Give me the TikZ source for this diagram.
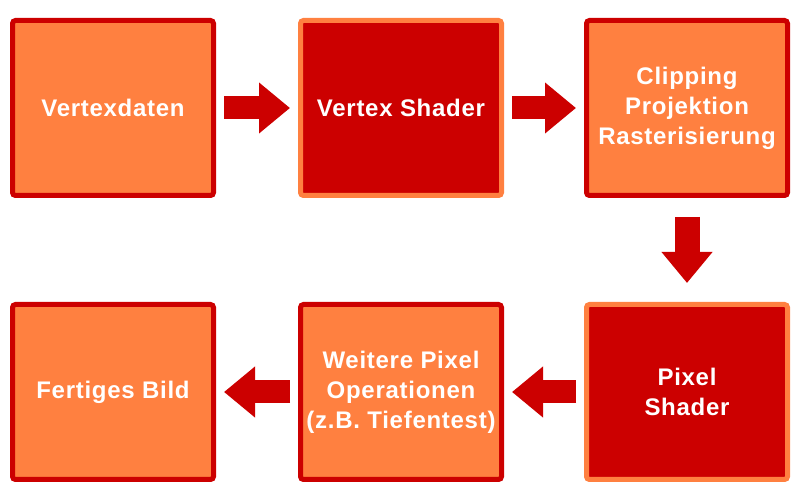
\documentclass[tikz,border=0pt]{standalone}
\usepackage{fontspec}
\setmainfont{Liberation Sans}
\newfontfamily\boxfont[LetterSpace=3]{Liberation Sans}
\usetikzlibrary{arrows.meta}
\definecolor{boxorange}{HTML}{FF8040}
\definecolor{boxred}{HTML}{CC0000}
\begin{document}
\begin{tikzpicture}[x=1pt,y=1pt,
  stage/.style={draw=boxred, fill=boxorange, line width=5pt, rounded corners=3pt,
    minimum width=201pt, minimum height=175pt, inner sep=0pt, align=center,
    text=white, font=\boxfont\bfseries\fontsize{24}{30}\selectfont},
  shader/.style={stage, draw=boxorange, fill=boxred},
  flow/.style={draw=boxred, line width=23pt, -{Triangle[length=31pt,width=49pt]},
    shorten <=8pt, shorten >=8pt}]
\useasboundingbox (0,0) rectangle (800,500);
\node[stage]  (vd) at (113,392) {Vertexdaten};
\node[shader] (vs) at (401,392) {Vertex Shader};
\node[stage]  (cp) at (687,392) {Clipping\\Projektion\\Rasterisierung};
\node[shader] (ps) at (687,108) {Pixel\\Shader};
\node[stage]  (wp) at (401,108) {Weitere Pixel\\Operationen\\(z.B. Tiefentest)};
\node[stage]  (fb) at (113,108) {Fertiges Bild};
\draw[flow] (vd.east) -- (vs.west);
\draw[flow] (vs.east) -- (cp.west);
\draw[flow, line width=25pt, shorten <=19pt, shorten >=19pt] (cp.south) -- (ps.north);
\draw[flow] (ps.west) -- (wp.east);
\draw[flow] (wp.west) -- (fb.east);
\end{tikzpicture}
\end{document}
